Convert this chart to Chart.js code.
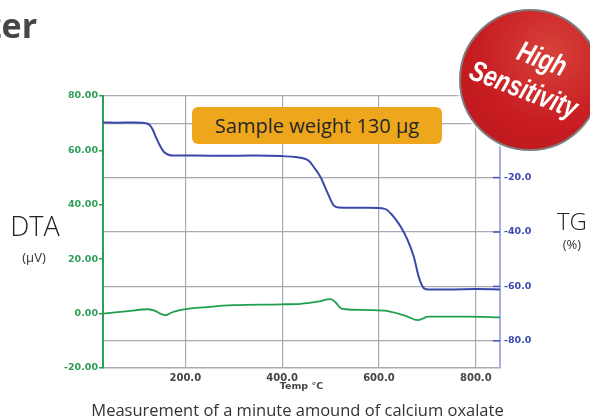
<!DOCTYPE html>
<html>
<head>
<meta charset="utf-8">
<script src="https://cdn.jsdelivr.net/npm/chart.js@4.4.0/dist/chart.umd.min.js"></script>
<style>
  body { margin: 0; background: #fff; }
  #wrap { position: relative; width: 590px; height: 419px; overflow: hidden; background: #fff; font-family: "Open Sans", sans-serif; }
  #c { position: absolute; left: 0; top: 0; }
  .t { position: absolute; white-space: nowrap; line-height: 1; }
  #head { font-weight: 700; font-size: 34px; color: #464646; top: 8px; left: -15px; }
  #dta { font-size: 27px; font-weight: 300; color: #222; left: 0; width: 70px; text-align: center; top: 212px; }
  #dtaU { font-size: 13px; color: #333; left: 0; width: 68px; text-align: center; top: 251px; }
  #tg { font-size: 24px; font-weight: 300; color: #222; left: 540px; width: 64px; text-align: center; top: 209px; }
  #tgU { font-size: 13px; color: #333; left: 540px; width: 64px; text-align: center; top: 238px; }
  #box { position: absolute; left: 192px; top: 107px; width: 250px; height: 37px; border-radius: 6px; background: #eea71d;
         font-size: 20px; color: #262626; text-align: center; line-height: 37px; white-space: nowrap; }
  #cap { font-size: 16.5px; color: #333; left: 0; width: 595px; text-align: center; top: 402px; }
  #badge { position: absolute; left: 459px; top: 9px; width: 138px; height: 138px; border-radius: 50%;
           border: 2px solid #7c7c7c; background: radial-gradient(circle at 65% 30%, #d6423a 0%, #c81d22 55%, #b8151b 100%);
           box-shadow: 0 0 3px 2px rgba(255,255,255,0.9); }
  #badgeTxt { position: absolute; left: 452px; top: 38px; width: 156px; text-align: center; color: #fff;
              font-family: "Liberation Sans Narrow", "Liberation Sans", sans-serif; font-weight: 700; font-style: italic;
              font-size: 29px; line-height: 35px; transform: rotate(21deg) scaleX(0.78); transform-origin: 50% 50%; }
</style>
</head>
<body>
<div id="wrap">
  <canvas id="c" width="590" height="419"></canvas>
  <div class="t" id="head">zer</div>
  <div class="t" id="dta">DTA</div>
  <div class="t" id="dtaU">(μV)</div>
  <div class="t" id="tg">TG</div>
  <div class="t" id="tgU">(%)</div>
  <div id="box">Sample weight 130 μg</div>
  <div class="t" id="cap">Measurement of a minute amound of calcium oxalate</div>
  <div id="badge"></div>
  <div id="badgeTxt">&nbsp;&nbsp;High<br>Sensitivity</div>
</div>
<script>
// TG curve (%)
const tgTemp = [30, 60, 90, 110, 122, 128, 133, 140, 148, 156, 165, 175, 220, 280, 340, 400, 425, 445, 455, 465, 479, 494, 506, 517, 540, 580, 612, 625, 635, 645, 659, 672, 682, 693, 703, 750, 800, 850];
const tgValue = [0.3, 0.2, 0.3, 0.2, -0.2, -1.0, -2.5, -5.4, -8.4, -10.6, -11.6, -11.9, -11.9, -12.0, -11.9, -12.1, -12.4, -13.0, -13.8, -16.0, -19.7, -25.7, -30.1, -31.0, -31.1, -31.1, -31.5, -33.3, -35.5, -38.1, -42.9, -49.1, -56.4, -60.7, -61.1, -61.1, -61.0, -61.1];

// DTA curve (uV)
const dtaTemp = [30, 76, 123, 138, 148, 160, 173, 189, 252, 299, 397, 438, 473, 500, 511, 521, 531, 577, 618, 655, 680, 691, 701, 784, 850];
const dtaValue = [0.0, 0.8, 1.6, 1.0, 0.0, -0.6, 0.5, 1.3, 2.5, 3.1, 3.4, 3.6, 4.4, 5.3, 4.0, 2.0, 1.6, 1.3, 0.9, -0.8, -2.4, -1.8, -1.1, -1.1, -1.4];

const xTicks = [200, 400, 600, 800];
const dtaTicks = [-20, 0, 20, 40, 60, 80];
const tgTicks = [-80, -60, -40, -20, 0, 10];

function toPoints(xs, ys) {
    return xs.map(function (x, i) { return { x: x, y: ys[i] }; });
}

Chart.defaults.font.family = 'DejaVu Sans';

const gridGray = '#a9a9b3';

// short blue tick marks on the inner side of the TG axis
const innerTicks = {
    id: 'innerTicks',
    afterDraw(chart) {
        const s = chart.scales.y1;
        const c = chart.ctx;
        c.save();
        c.strokeStyle = '#4a58b8';
        c.lineWidth = 1.5;
        s.ticks.forEach(function (t) {
            if (t.value >= 0) return;
            const y = s.getPixelForValue(t.value);
            c.beginPath();
            c.moveTo(s.left - 7, y);
            c.lineTo(s.left, y);
            c.stroke();
        });
        c.restore();
    }
};

let ctx = document.getElementById('c').getContext('2d');
let chart = new Chart(ctx, {
    type: 'line',
    data: {
        datasets: [{
            label: 'TG',
            data: toPoints(tgTemp, tgValue),
            yAxisID: 'y1',
            borderColor: '#3a48a8',
            borderWidth: 2,
            pointRadius: 0,
            cubicInterpolationMode: 'monotone'
        }, {
            label: 'DTA',
            data: toPoints(dtaTemp, dtaValue),
            yAxisID: 'y',
            borderColor: '#20a04c',
            borderWidth: 1.8,
            pointRadius: 0,
            cubicInterpolationMode: 'monotone'
        }]
    },
    options: {
        responsive: false,
        animation: false,
        layout: { padding: { top: 96, left: 0, right: 0, bottom: 0 } },
        plugins: { legend: { display: false }, tooltip: { enabled: false } },
        scales: {
            x: {
                type: 'linear',
                min: 30,
                max: 850,
                afterBuildTicks: function (scale) { scale.ticks = xTicks.map(v => ({ value: v })); },
                afterFit: function (scale) { scale.height = 51; },
                grid: { color: gridGray, lineWidth: 1.2, drawTicks: false },
                border: { color: gridGray, width: 1.5 },
                ticks: {
                    padding: 4,
                    color: '#454545',
                    font: { size: 10, weight: 'bold' },
                    maxRotation: 0,
                    callback: v => v.toFixed(1)
                },
                title: {
                    display: true,
                    text: 'Temp °C',
                    color: '#454545',
                    font: { size: 9.5, weight: 'bold' },
                    padding: { top: 0, bottom: 27 }
                }
            },
            y: {
                position: 'left',
                min: -20,
                max: 80,
                afterBuildTicks: function (scale) { scale.ticks = dtaTicks.map(v => ({ value: v })); },
                afterFit: function (scale) { scale.width = 103; },
                grid: { drawOnChartArea: false, color: '#2e9e58', tickLength: 4, lineWidth: 1.5 },
                border: { color: '#2e9e58', width: 2 },
                ticks: {
                    padding: 1,
                    color: '#2e9e58',
                    font: { size: 9.5, weight: 'bold' },
                    callback: v => v.toFixed(2)
                }
            },
            y1: {
                position: 'right',
                min: -90,
                max: 10,
                afterBuildTicks: function (scale) { scale.ticks = tgTicks.map(v => ({ value: v })); },
                afterFit: function (scale) { scale.width = 90; },
                grid: { color: gridGray, lineWidth: 1.2, drawTicks: false },
                border: { color: '#a7ade2', width: 2 },
                ticks: {
                    padding: 4,
                    color: '#3a48b0',
                    font: { size: 9.5, weight: 'bold' },
                    callback: v => (v >= 0 ? '' : v.toFixed(1))
                }
            }
        }
    },
    plugins: [innerTicks]
});
</script>
</body>
</html>
